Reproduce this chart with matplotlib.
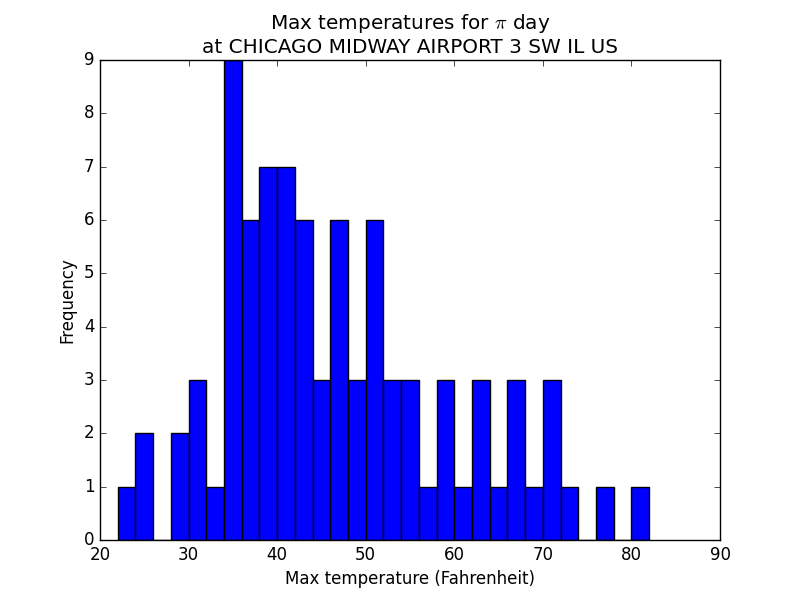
import matplotlib
matplotlib.use("Agg")
import matplotlib.pyplot as plt
import numpy as np

# histogram of max temperatures
bin_edges = np.arange(22, 84, 2)
counts = [1, 2, 0, 2, 3, 1, 9, 6, 7, 7, 6, 3, 6, 3, 6,
          3, 3, 1, 3, 1, 3, 1, 3, 1, 3, 1, 0, 1, 0, 1]
x_ticks = [20, 30, 40, 50, 60, 70, 80, 90]
y_ticks = list(range(0, 10))

plt.style.use("classic")
fig = plt.figure(figsize=(8, 6), dpi=100)
ax = fig.add_subplot(111)

centers = bin_edges[:-1] + np.diff(bin_edges) / 2
ax.hist(centers, bins=bin_edges, weights=counts, color="blue", edgecolor="black")

ax.set_xlim(20, 90)
ax.set_ylim(0, 9)
ax.set_xticks(x_ticks)
ax.set_yticks(y_ticks)
ax.set_xlabel("Max temperature (Fahrenheit)")
ax.set_ylabel("Frequency")
ax.set_title("Max temperatures for $\\pi$ day\nat CHICAGO MIDWAY AIRPORT 3 SW IL US")

fig.savefig("out.png", dpi=100, facecolor="white")
